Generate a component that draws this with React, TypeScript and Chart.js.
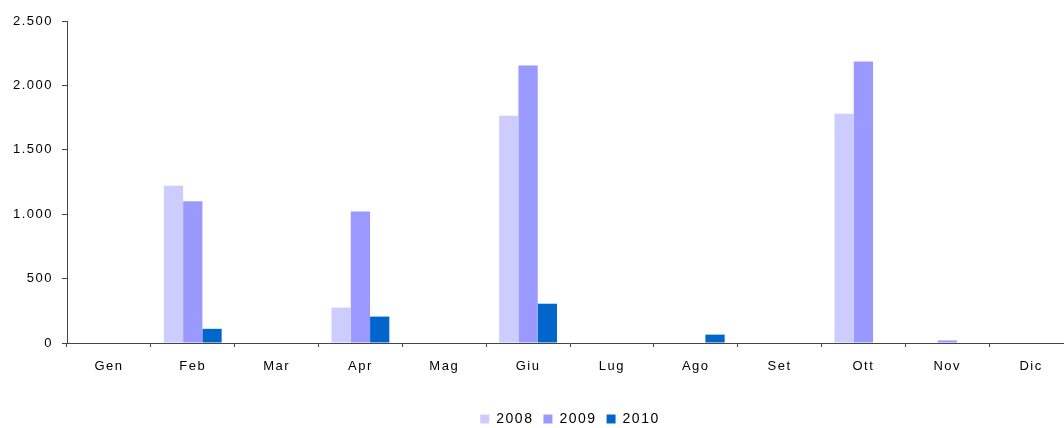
import React, { useEffect, useRef } from "react";
import { Chart, registerables } from "chart.js";

Chart.register(...registerables);

const months = ["Gen", "Feb", "Mar", "Apr", "Mag", "Giu", "Lug", "Ago", "Set", "Ott", "Nov", "Dic"];
const series2008 = [0, 1220, 0, 275, 0, 1765, 0, 0, 0, 1780, 0, 0];
const series2009 = [0, 1100, 0, 1020, 0, 2155, 0, 0, 0, 2185, 20, 0];
const series2010 = [0, 110, 0, 205, 0, 305, 0, 65, 0, 0, 0, 0];
const seriesNames = ["2008", "2009", "2010"];
const seriesColors = ["#CCCCFF", "#9999FF", "#0066CC"];
const yMin = 0;
const yMax = 2500;
const yStep = 500;

const fmt = (v: number) => String(v).replace(/\B(?=(\d{3})+(?!\d))/g, ".");

const spacingPlugin = {
  id: "letterSpacing",
  beforeUpdate(chart: any) {
    chart.ctx.letterSpacing = "1.5px";
  },
  beforeLayout(chart: any) {
    chart.ctx.letterSpacing = "1.5px";
  },
  beforeDraw(chart: any) {
    chart.ctx.letterSpacing = "1.5px";
  },
};

export default function App() {
  const ref = useRef<HTMLCanvasElement | null>(null);
  useEffect(() => {
    if (!ref.current) return;
    const allSeries = [series2008, series2009, series2010];
    const chart = new Chart(ref.current, {
      type: "bar",
      data: {
        labels: months,
        datasets: allSeries.map((d, i) => ({
          label: seriesNames[i],
          data: d,
          backgroundColor: seriesColors[i],
          borderWidth: 0,
          categoryPercentage: 0.69,
          barPercentage: 1.0,
        })),
      },
      options: {
        responsive: false,
        animation: false,
        devicePixelRatio: 1,
        layout: { padding: { top: 21, right: 7, left: 0, bottom: 0 } },
        plugins: {
          tooltip: { enabled: false },
          legend: {
            position: "bottom",
            fullSize: false,
            labels: {
              boxWidth: 9,
              boxHeight: 9,
              padding: 10,
              color: "#000",
              font: { family: "'Liberation Sans', Arial, sans-serif", size: 14 },
            },
          },
        },
        scales: {
          x: {
            grid: {
              display: true,
              drawOnChartArea: false,
              drawTicks: true,
              tickLength: 4,
              color: "#444",
              offset: true,
            },
            border: { display: true, color: "#444", width: 1 },
            ticks: {
              color: "#000",
              padding: 12,
              autoSkip: false,
              maxRotation: 0,
              font: { family: "'Liberation Sans', Arial, sans-serif", size: 13 },
            },
            afterFit: (scale: any) => {
              scale.height = 59;
            },
          },
          y: {
            min: yMin,
            max: yMax,
            grid: {
              display: true,
              drawOnChartArea: false,
              drawTicks: true,
              tickLength: 5,
              color: "#444",
            },
            border: { display: true, color: "#444", width: 1 },
            ticks: {
              stepSize: yStep,
              color: "#000",
              padding: 9,
              font: { family: "'Liberation Sans', Arial, sans-serif", size: 13 },
              callback: (v: any) => fmt(Number(v)),
            },
            afterFit: (scale: any) => {
              scale.width = 67;
            },
          },
        },
      },
      plugins: [spacingPlugin],
    });
    return () => chart.destroy();
  }, []);
  return (
    <div
      style={{
        position: "fixed",
        left: 0,
        top: 0,
        width: 1064,
        height: 428,
        overflow: "hidden",
        background: "#fff",
      }}
    >
      <canvas ref={ref} width={1080} height={436} style={{ display: "block" }} />
    </div>
  );
}
